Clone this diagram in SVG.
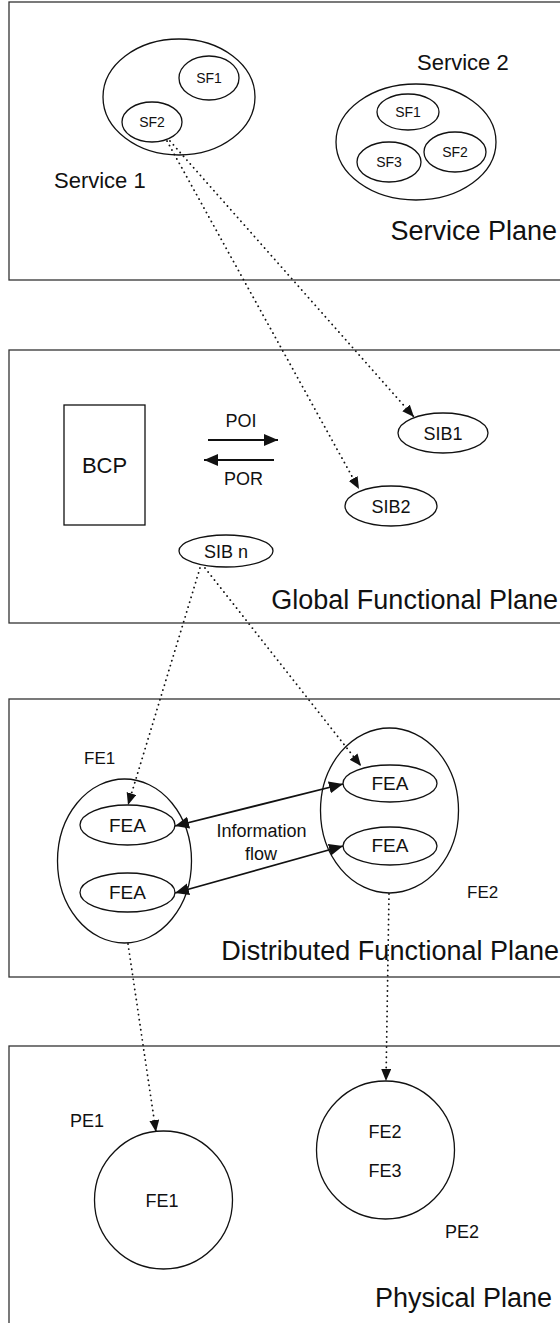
<svg xmlns="http://www.w3.org/2000/svg" width="560" height="1323" viewBox="0 0 560 1323">
<style>
.panel{fill:none;stroke:#333;stroke-width:1.3}
.sh{fill:none;stroke:#111;stroke-width:1.3}
.t{font-family:"Liberation Sans",Arial,sans-serif;fill:#111}
.s{font-size:14px}
.m{font-size:17px}
.k{font-size:18px}
.l{font-size:22px}
.p{font-size:27px}
.dot{fill:none;stroke:#111;stroke-width:1.8;stroke-linecap:round;stroke-dasharray:0.1 5}
.sol{fill:none;stroke:#111;stroke-width:1.7}
.bold{fill:none;stroke:#111;stroke-width:2.2}
</style>
<defs>
<marker id="ah" markerUnits="userSpaceOnUse" markerWidth="14" markerHeight="12" refX="12" refY="5" orient="auto">
<path d="M0,0 L12,5 L0,10 Z" fill="#111"/>
</marker>
<marker id="ahb" markerUnits="userSpaceOnUse" markerWidth="16" markerHeight="14" refX="14" refY="6" orient="auto-start-reverse">
<path d="M0,0 L14,6 L0,12 Z" fill="#111"/>
</marker>
</defs>

<g id="service-plane">
<rect class="panel" x="9" y="2" width="600" height="278"/>
<text class="t p" x="557" y="240" text-anchor="end">Service Plane</text>
</g>
<g id="service1">
<ellipse class="sh" cx="179" cy="97" rx="76" ry="58"/>
<text class="t l" x="54" y="188">Service 1</text>
</g>
<g id="s1-sf1">
<ellipse class="sh" cx="209" cy="78" rx="30" ry="22"/>
<text class="t s" x="209" y="83" text-anchor="middle">SF1</text>
</g>
<g id="s1-sf2">
<ellipse class="sh" cx="152" cy="122" rx="30" ry="20"/>
<text class="t s" x="152" y="127" text-anchor="middle">SF2</text>
</g>
<g id="service2">
<ellipse class="sh" cx="416" cy="142" rx="80" ry="58"/>
<text class="t l" x="417" y="70">Service 2</text>
</g>
<g id="s2-sf1">
<ellipse class="sh" cx="408" cy="112" rx="31" ry="18"/>
<text class="t s" x="408" y="117" text-anchor="middle">SF1</text>
</g>
<g id="s2-sf3">
<ellipse class="sh" cx="389" cy="162" rx="32" ry="20"/>
<text class="t s" x="389" y="167" text-anchor="middle">SF3</text>
</g>
<g id="s2-sf2">
<ellipse class="sh" cx="455" cy="152" rx="31" ry="20"/>
<text class="t s" x="455" y="157" text-anchor="middle">SF2</text>
</g>

<g id="gfp-plane">
<rect class="panel" x="9" y="350" width="600" height="273"/>
<text class="t p" x="558" y="609" text-anchor="end">Global Functional Plane</text>
</g>
<g id="bcp">
<rect class="sh" x="64" y="405" width="81" height="120"/>
<text class="t l" x="104.5" y="473" text-anchor="middle">BCP</text>
</g>
<g id="sib1">
<ellipse class="sh" cx="443" cy="433" rx="45" ry="20"/>
<text class="t k" x="443" y="440" text-anchor="middle">SIB1</text>
</g>
<g id="sib2">
<ellipse class="sh" cx="391" cy="506" rx="46" ry="20"/>
<text class="t k" x="391" y="513" text-anchor="middle">SIB2</text>
</g>
<g id="sibn">
<ellipse class="sh" cx="226" cy="551" rx="47" ry="16"/>
<text class="t k" x="226" y="558" text-anchor="middle">SIB n</text>
</g>

<g id="dfp-plane">
<rect class="panel" x="9" y="699" width="600" height="278"/>
<text class="t p" x="559" y="960" text-anchor="end">Distributed Functional Plane</text>
</g>
<g id="fe1">
<ellipse class="sh" cx="124.5" cy="861" rx="67" ry="82"/>
<text class="t m" x="84" y="764">FE1</text>
</g>
<g id="fe1-fea1">
<ellipse class="sh" cx="127.5" cy="825" rx="47.5" ry="20"/>
<text class="t" style="font-size:19px" x="127.5" y="832" text-anchor="middle">FEA</text>
</g>
<g id="fe1-fea2">
<ellipse class="sh" cx="127.5" cy="892.5" rx="47.5" ry="19.5"/>
<text class="t" style="font-size:19px" x="127.5" y="899" text-anchor="middle">FEA</text>
</g>
<g id="fe2">
<ellipse class="sh" cx="389.5" cy="810.5" rx="69" ry="82.5"/>
<text class="t m" x="467" y="898">FE2</text>
</g>
<g id="fe2-fea1">
<ellipse class="sh" cx="390" cy="783.5" rx="47" ry="18.5"/>
<text class="t" style="font-size:19px" x="390" y="790" text-anchor="middle">FEA</text>
</g>
<g id="fe2-fea2">
<ellipse class="sh" cx="390" cy="846" rx="47" ry="19"/>
<text class="t" style="font-size:19px" x="390" y="852" text-anchor="middle">FEA</text>
</g>

<g id="pp-plane">
<rect class="panel" x="9" y="1046" width="600" height="290"/>
<text class="t p" x="552" y="1307" text-anchor="end">Physical Plane</text>
</g>
<g id="pe1">
<circle class="sh" cx="163.5" cy="1200" r="69"/>
<text class="t k" x="70" y="1127">PE1</text>
<text class="t k" x="162" y="1207" text-anchor="middle">FE1</text>
</g>
<g id="pe2">
<circle class="sh" cx="385.5" cy="1150" r="69"/>
<text class="t k" x="385" y="1138" text-anchor="middle">FE2</text>
<text class="t k" x="385" y="1177" text-anchor="middle">FE3</text>
<text class="t k" x="445" y="1238">PE2</text>
</g>

<g id="connectors">
<line class="dot" x1="170" y1="141" x2="414" y2="417" marker-end="url(#ah)"/>
<line class="dot" x1="167" y1="141" x2="359" y2="489" marker-end="url(#ah)"/>
<line class="bold" x1="208" y1="440" x2="278" y2="440" marker-end="url(#ahb)"/>
<line class="bold" x1="274" y1="460" x2="204" y2="460" marker-end="url(#ahb)"/>
<text class="t k" x="241" y="427" text-anchor="middle">POI</text>
<text class="t k" x="243.5" y="485" text-anchor="middle">POR</text>
<line class="dot" x1="200" y1="568" x2="128" y2="805" marker-end="url(#ah)"/>
<line class="dot" x1="205" y1="568" x2="361" y2="766" marker-end="url(#ah)"/>
<line class="sol" x1="175" y1="826" x2="343" y2="784" marker-start="url(#ahb)" marker-end="url(#ahb)"/>
<line class="sol" x1="175" y1="893" x2="343" y2="846" marker-start="url(#ahb)" marker-end="url(#ahb)"/>
<text class="t k" x="261.5" y="837" text-anchor="middle">Information</text>
<text class="t k" x="261" y="860" text-anchor="middle">flow</text>
<line class="dot" x1="128" y1="944" x2="156" y2="1132" marker-end="url(#ah)"/>
<line class="dot" x1="389" y1="894" x2="386" y2="1081" marker-end="url(#ah)"/>
</g>
</svg>
